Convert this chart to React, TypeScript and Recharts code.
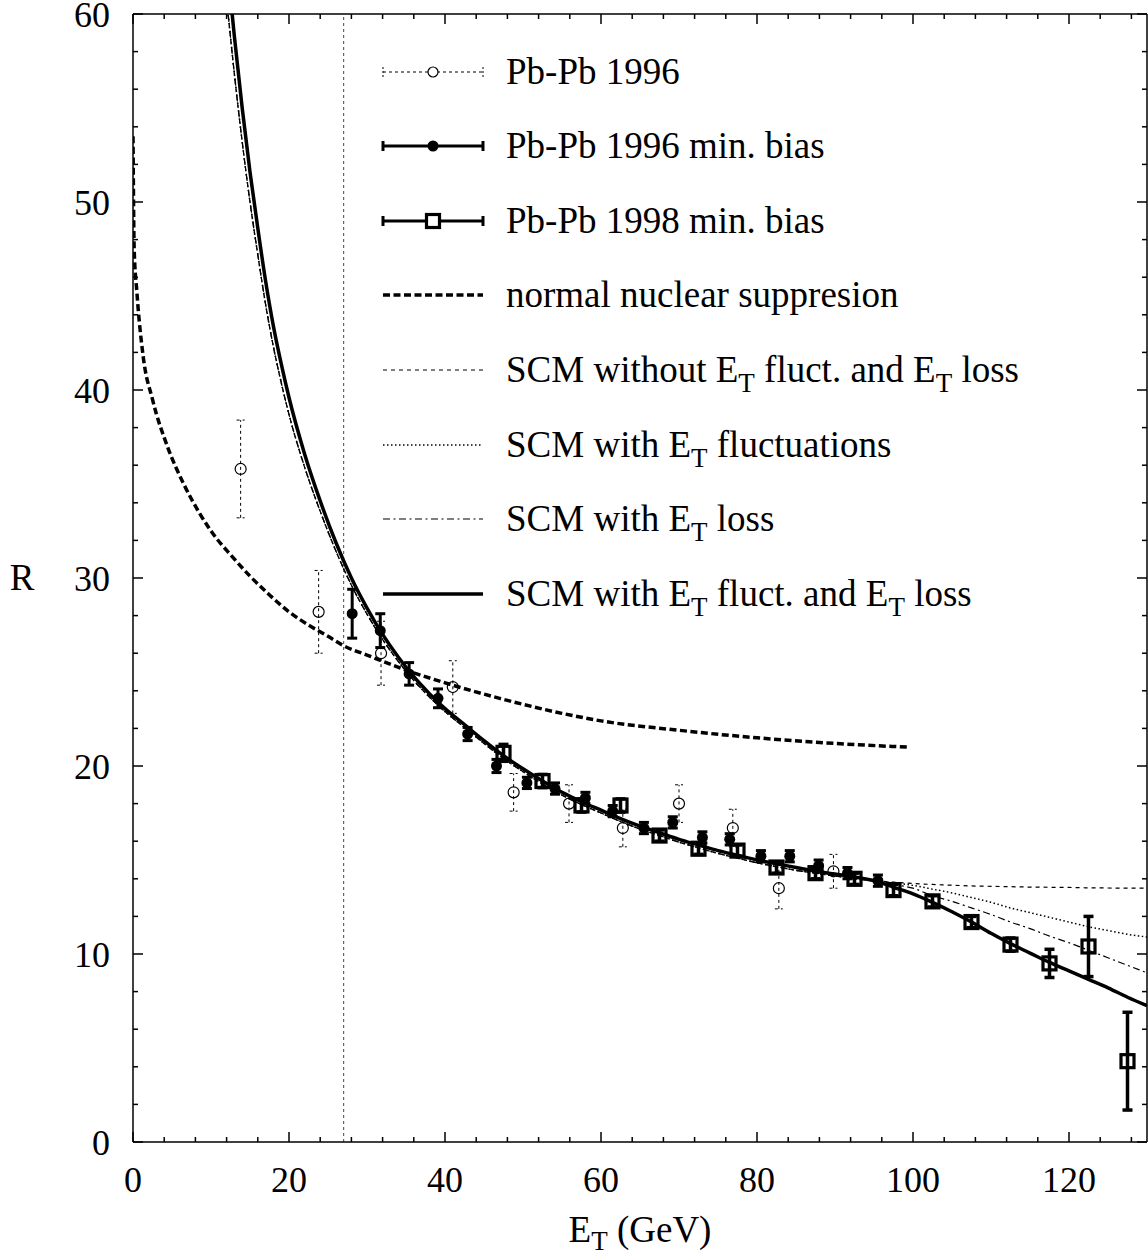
import React from "react";
import {
  ComposedChart,
  Line,
  Scatter,
  XAxis,
  YAxis,
  ErrorBar,
  ReferenceLine,
} from "recharts";

const FONT = '"Liberation Serif", "Times New Roman", Times, serif';

// axis ticks (minor every 4 / 2, labels every 20 / 10)
const xTicks = [0, 4, 8, 12, 16, 20, 24, 28, 32, 36, 40, 44, 48, 52, 56, 60, 64, 68, 72, 76, 80, 84, 88, 92, 96, 100, 104, 108, 112, 116, 120, 124, 128];
const yTicks = [0, 2, 4, 6, 8, 10, 12, 14, 16, 18, 20, 22, 24, 26, 28, 30, 32, 34, 36, 38, 40, 42, 44, 46, 48, 50, 52, 54, 56, 58, 60];

// Pb-Pb 1996 (open circles)
const pb96X = [13.8, 23.8, 31.8, 41.0, 48.8, 55.9, 62.8, 70.0, 76.9, 82.8, 89.8];
const pb96Y = [35.8, 28.2, 26.0, 24.2, 18.6, 18.0, 16.7, 18.0, 16.7, 13.5, 14.4];
const pb96Err = [2.6, 2.2, 1.7, 1.4, 1.0, 1.0, 1.0, 1.0, 1.0, 1.1, 0.9];

// Pb-Pb 1996 min. bias (filled circles)
const mb96X = [28.1, 31.7, 35.4, 39.1, 42.9, 46.6, 50.5, 54.1, 58.0, 61.5, 65.5, 69.2, 73.0, 76.5, 80.5, 84.2, 87.9, 91.6, 95.5];
const mb96Y = [28.1, 27.2, 24.9, 23.6, 21.7, 20.0, 19.1, 18.8, 18.3, 17.6, 16.7, 17.0, 16.2, 16.1, 15.2, 15.2, 14.7, 14.3, 13.9];
const mb96Err = [1.3, 0.9, 0.6, 0.5, 0.35, 0.35, 0.3, 0.3, 0.3, 0.3, 0.3, 0.3, 0.3, 0.3, 0.3, 0.3, 0.3, 0.3, 0.3];

// Pb-Pb 1998 min. bias (open squares)
const mb98X = [47.5, 52.5, 57.5, 62.5, 67.5, 72.5, 77.5, 82.5, 87.5, 92.5, 97.5, 102.5, 107.5, 112.5, 117.5, 122.5, 127.5];
const mb98Y = [20.7, 19.2, 17.9, 17.9, 16.3, 15.6, 15.5, 14.6, 14.3, 14.0, 13.4, 12.8, 11.7, 10.5, 9.5, 10.4, 4.3];
const mb98Err = [0.45, 0.35, 0.35, 0.35, 0.3, 0.3, 0.3, 0.3, 0.3, 0.3, 0.3, 0.3, 0.3, 0.35, 0.75, 1.6, 2.6];

// normal nuclear suppression
const nnsX = [0, 0.15, 0.5, 1.3, 2.5, 4.5, 6.5, 8.6, 10, 12.8, 15, 17.5, 20, 22.5, 25, 27, 30, 35, 41, 47, 55, 60, 70, 80, 90, 99.5];
const nnsY = [53.5, 47.5, 45.2, 41.8, 39.5, 36.9, 35.0, 33.4, 32.5, 31.1, 30.1, 29.1, 28.2, 27.5, 26.9, 26.4, 25.9, 25.1, 24.3, 23.6, 22.8, 22.4, 21.9, 21.5, 21.2, 21.0];

// SCM curves
const scmX = [12, 13, 14, 15, 16, 17, 18, 19, 20, 22, 24, 26, 28, 30, 32, 34, 36, 38, 40, 42.5, 45, 47.5, 50, 52.5, 55, 57.5, 60, 62.5, 65, 67.5, 70, 72.5, 75, 77.5, 80, 82.5, 85, 87.5, 90, 92.5, 95, 97.5, 100, 102.5, 105, 107.5, 110, 112.5, 115, 117.5, 120, 122.5, 125, 127.5, 130];
const scmFullY = [63.0, 58.8, 55.0, 51.6, 48.6, 45.8, 43.4, 41.4, 39.6, 36.6, 34.1, 31.9, 30.0, 28.4, 27.0, 25.8, 24.75, 23.85, 23.05, 22.2, 21.35, 20.55, 19.85, 19.2, 18.6, 18.1, 17.65, 17.2, 16.8, 16.45, 16.1, 15.8, 15.5, 15.25, 15.0, 14.8, 14.6, 14.4, 14.25, 14.1, 13.9, 13.55, 13.2, 12.75, 12.25, 11.7, 11.1, 10.55, 10.05, 9.55, 9.1, 8.65, 8.2, 7.7, 7.25];
// thin curves share the part up to 95 GeV
const scmThinCommonY = [60.8, 56.8, 53.2, 50.0, 47.2, 44.55, 42.3, 40.4, 38.7, 35.9, 33.55, 31.45, 29.62, 28.08, 26.73, 25.57, 24.55, 23.67, 22.89, 22.05, 21.2, 20.4, 19.7, 19.05, 18.45, 17.95, 17.5, 17.05, 16.65, 16.3, 15.95, 15.65, 15.35, 15.1, 14.85, 14.65, 14.45, 14.3, 14.15, 14.0, 13.9];
const scmNoneTailY = [13.82, 13.75, 13.7, 13.66, 13.62, 13.6, 13.58, 13.56, 13.55, 13.54, 13.52, 13.51, 13.5, 13.5];
const scmFluctTailY = [13.78, 13.65, 13.45, 13.25, 13.0, 12.75, 12.45, 12.2, 11.95, 11.7, 11.45, 11.25, 11.05, 10.9];
const scmLossTailY = [13.7, 13.5, 13.1, 12.8, 12.45, 12.1, 11.7, 11.35, 10.95, 10.6, 10.2, 9.8, 9.4, 9.0];

const zip = (xs: number[], ys: number[], es?: number[]) =>
  xs.map((x, i) => ({ x, y: ys[i], err: es ? es[i] : 0 }));

const pb96Data = zip(pb96X, pb96Y, pb96Err);
const mb96Data = zip(mb96X, mb96Y, mb96Err);
const mb98Data = zip(mb98X, mb98Y, mb98Err);
const nnsData = zip(nnsX, nnsY);
const scmFullData = zip(scmX, scmFullY);
const scmNoneData = zip(scmX, [...scmThinCommonY, ...scmNoneTailY]);
const scmFluctData = zip(scmX, [...scmThinCommonY, ...scmFluctTailY]);
const scmLossData = zip(scmX, [...scmThinCommonY, ...scmLossTailY]);

const BottomTick = (props: any) => {
  const { x, y, payload } = props;
  const v = payload.value;
  const major = v % 20 === 0;
  return (
    <g>
      <line x1={x} y1={y} x2={x} y2={y - (major ? 10 : 5)} stroke="#000" strokeWidth={1.5} />
      {major && (
        <text x={x} y={y + 50} textAnchor="middle" fontSize={36} fontFamily={FONT} fill="#000">
          {v}
        </text>
      )}
    </g>
  );
};

const TopTick = (props: any) => {
  const { x, y, payload } = props;
  const major = payload.value % 20 === 0;
  return <line x1={x} y1={y} x2={x} y2={y + (major ? 10 : 5)} stroke="#000" strokeWidth={1.5} />;
};

const LeftTick = (props: any) => {
  const { x, y, payload } = props;
  const v = payload.value;
  const major = v % 10 === 0;
  return (
    <g>
      <line x1={x} y1={y} x2={x + (major ? 10 : 5)} y2={y} stroke="#000" strokeWidth={1.5} />
      {major && (
        <text x={x - 23} y={y + 12.5} textAnchor="end" fontSize={36} fontFamily={FONT} fill="#000">
          {v}
        </text>
      )}
    </g>
  );
};

const RightTick = (props: any) => {
  const { x, y, payload } = props;
  const major = payload.value % 10 === 0;
  return <line x1={x} y1={y} x2={x - (major ? 10 : 5)} y2={y} stroke="#000" strokeWidth={1.5} />;
};

const OpenCircle = (p: any) => (
  <circle cx={p.cx} cy={p.cy} r={5.5} fill="none" stroke="#000" strokeWidth={1.2} />
);
const FilledCircle = (p: any) => <circle cx={p.cx} cy={p.cy} r={5.5} fill="#000" stroke="none" />;
const OpenSquare = (p: any) => (
  <rect x={p.cx - 6.5} y={p.cy - 6.5} width={13} height={13} fill="none" stroke="#000" strokeWidth={3.2} />
);

// text with subscripts: segments of [text, isSubscript]
function SubText({ x, y, parts, anchor, shift = 10 }: { x: number; y: number; parts: [string, boolean][]; anchor?: string; shift?: number }) {
  let prevSub = false;
  return (
    <text x={x} y={y} textAnchor={anchor} fontSize={37} fontFamily={FONT} fill="#000">
      {parts.map(([s, sub], i) => {
        const dy = sub && !prevSub ? shift : !sub && prevSub ? -shift : 0;
        prevSub = sub;
        return (
          <tspan key={i} dy={dy} fontSize={sub ? 27 : 37}>
            {s}
          </tspan>
        );
      })}
    </text>
  );
}

function Legend() {
  const x1 = 383;
  const x2 = 483;
  const tx = 506;
  const rows = [72, 146, 221, 295, 370, 445, 519, 594];
  const txt = (i: number, parts: [string, boolean][]) => <SubText x={tx} y={rows[i] + 11.5} parts={parts} />;
  const caps = (y: number, w: number, dash?: string) => (
    <>
      <line x1={x1} y1={y - 5} x2={x1} y2={y + 5} stroke="#000" strokeWidth={w} strokeDasharray={dash} />
      <line x1={x2} y1={y - 5} x2={x2} y2={y + 5} stroke="#000" strokeWidth={w} strokeDasharray={dash} />
    </>
  );
  return (
    <svg width={1148} height={1260} style={{ position: "absolute", left: 0, top: 0, pointerEvents: "none" }}>
      {/* Pb-Pb 1996 */}
      <line x1={x1} y1={rows[0]} x2={x2} y2={rows[0]} stroke="#000" strokeWidth={1} strokeDasharray="3 3" />
      {caps(rows[0], 1, "2 2")}
      <circle cx={433} cy={rows[0]} r={5} fill="#fff" stroke="#000" strokeWidth={1.2} />
      {txt(0, [["Pb-Pb 1996", false]])}
      {/* 1996 min bias */}
      <line x1={x1} y1={rows[1]} x2={x2} y2={rows[1]} stroke="#000" strokeWidth={3} />
      {caps(rows[1], 3)}
      <circle cx={433} cy={rows[1]} r={5.5} fill="#000" />
      {txt(1, [["Pb-Pb 1996 min. bias", false]])}
      {/* 1998 min bias */}
      <line x1={x1} y1={rows[2]} x2={x2} y2={rows[2]} stroke="#000" strokeWidth={3} />
      {caps(rows[2], 3)}
      <rect x={426.5} y={rows[2] - 6.5} width={13} height={13} fill="#fff" stroke="#000" strokeWidth={3.2} />
      {txt(2, [["Pb-Pb 1998 min. bias", false]])}
      {/* curves */}
      <line x1={x1} y1={rows[3]} x2={x2} y2={rows[3]} stroke="#000" strokeWidth={3.5} strokeDasharray="7 3.5" />
      {txt(3, [["normal nuclear suppresion", false]])}
      <line x1={x1} y1={rows[4]} x2={x2} y2={rows[4]} stroke="#000" strokeWidth={1.2} strokeDasharray="4 4" />
      {txt(4, [["SCM without E", false], ["T", true], [" fluct. and E", false], ["T", true], [" loss", false]])}
      <line x1={x1} y1={rows[5]} x2={x2} y2={rows[5]} stroke="#000" strokeWidth={1.5} strokeDasharray="1.5 2.5" />
      {txt(5, [["SCM with E", false], ["T", true], [" fluctuations", false]])}
      <line x1={x1} y1={rows[6]} x2={x2} y2={rows[6]} stroke="#000" strokeWidth={1.2} strokeDasharray="7 3.5 2 3.5" />
      {txt(6, [["SCM with E", false], ["T", true], [" loss", false]])}
      <line x1={x1} y1={rows[7]} x2={x2} y2={rows[7]} stroke="#000" strokeWidth={3.5} />
      {txt(7, [["SCM with E", false], ["T", true], [" fluct. and E", false], ["T", true], [" loss", false]])}
      {/* axis titles */}
      <SubText x={22} y={590} anchor="middle" parts={[["R", false]]} />
      <SubText x={640} y={1242} anchor="middle" shift={8} parts={[["E", false], ["T", true], [" (GeV)", false]]} />
    </svg>
  );
}

export default function App() {
  return (
    <div style={{ position: "absolute", left: 0, top: 0, width: 1148, height: 1260, background: "#fff" }}>
      <ComposedChart width={1148} height={1260} margin={{ top: 13, right: 0, bottom: 117, left: 132 }}>
        <XAxis
          xAxisId={0}
          dataKey="x"
          type="number"
          domain={[0, 130]}
          allowDataOverflow
          ticks={xTicks}
          interval={0}
          height={1}
          tickSize={0}
          tickMargin={0}
          tickLine={false}
          axisLine={{ stroke: "#000", strokeWidth: 1.5 }}
          tick={<BottomTick />}
        />
        <XAxis
          xAxisId="top"
          orientation="top"
          dataKey="x"
          type="number"
          domain={[0, 130]}
          allowDataOverflow
          ticks={xTicks}
          interval={0}
          height={1}
          tickSize={0}
          tickMargin={0}
          tickLine={false}
          axisLine={{ stroke: "#000", strokeWidth: 1.5 }}
          tick={<TopTick />}
        />
        <YAxis
          yAxisId={0}
          dataKey="y"
          type="number"
          domain={[0, 60]}
          allowDataOverflow
          ticks={yTicks}
          interval={0}
          width={1}
          tickSize={0}
          tickMargin={0}
          tickLine={false}
          axisLine={{ stroke: "#000", strokeWidth: 1.5 }}
          tick={<LeftTick />}
        />
        <YAxis
          yAxisId="right"
          orientation="right"
          dataKey="y"
          type="number"
          domain={[0, 60]}
          allowDataOverflow
          ticks={yTicks}
          interval={0}
          width={1}
          tickSize={0}
          tickMargin={0}
          tickLine={false}
          axisLine={{ stroke: "#000", strokeWidth: 1.5 }}
          tick={<RightTick />}
        />

        <ReferenceLine x={27} stroke="#666" strokeWidth={1.2} strokeDasharray="3 3" />

        <Line data={nnsData} dataKey="y" type="monotone" stroke="#000" strokeWidth={3.5} strokeDasharray="7 3.5" dot={false} isAnimationActive={false} />
        <Line data={scmNoneData} dataKey="y" type="monotone" stroke="#000" strokeWidth={1.2} strokeDasharray="4 4" dot={false} isAnimationActive={false} />
        <Line data={scmFluctData} dataKey="y" type="monotone" stroke="#000" strokeWidth={1.5} strokeDasharray="1.5 2.5" dot={false} isAnimationActive={false} />
        <Line data={scmLossData} dataKey="y" type="monotone" stroke="#000" strokeWidth={1.2} strokeDasharray="7 3.5 2 3.5" dot={false} isAnimationActive={false} />
        <Line data={scmFullData} dataKey="y" type="monotone" stroke="#000" strokeWidth={3.5} dot={false} isAnimationActive={false} />

        <Scatter data={pb96Data} dataKey="y" shape={OpenCircle} isAnimationActive={false}>
          <ErrorBar dataKey="err" direction="y" width={4} stroke="#000" strokeWidth={1} strokeDasharray="3 3" />
        </Scatter>
        <Scatter data={mb96Data} dataKey="y" shape={FilledCircle} isAnimationActive={false}>
          <ErrorBar dataKey="err" direction="y" width={5} stroke="#000" strokeWidth={3} />
        </Scatter>
        <Scatter data={mb98Data} dataKey="y" shape={OpenSquare} isAnimationActive={false}>
          <ErrorBar dataKey="err" direction="y" width={5} stroke="#000" strokeWidth={3.5} />
        </Scatter>
      </ComposedChart>
      <Legend />
    </div>
  );
}
